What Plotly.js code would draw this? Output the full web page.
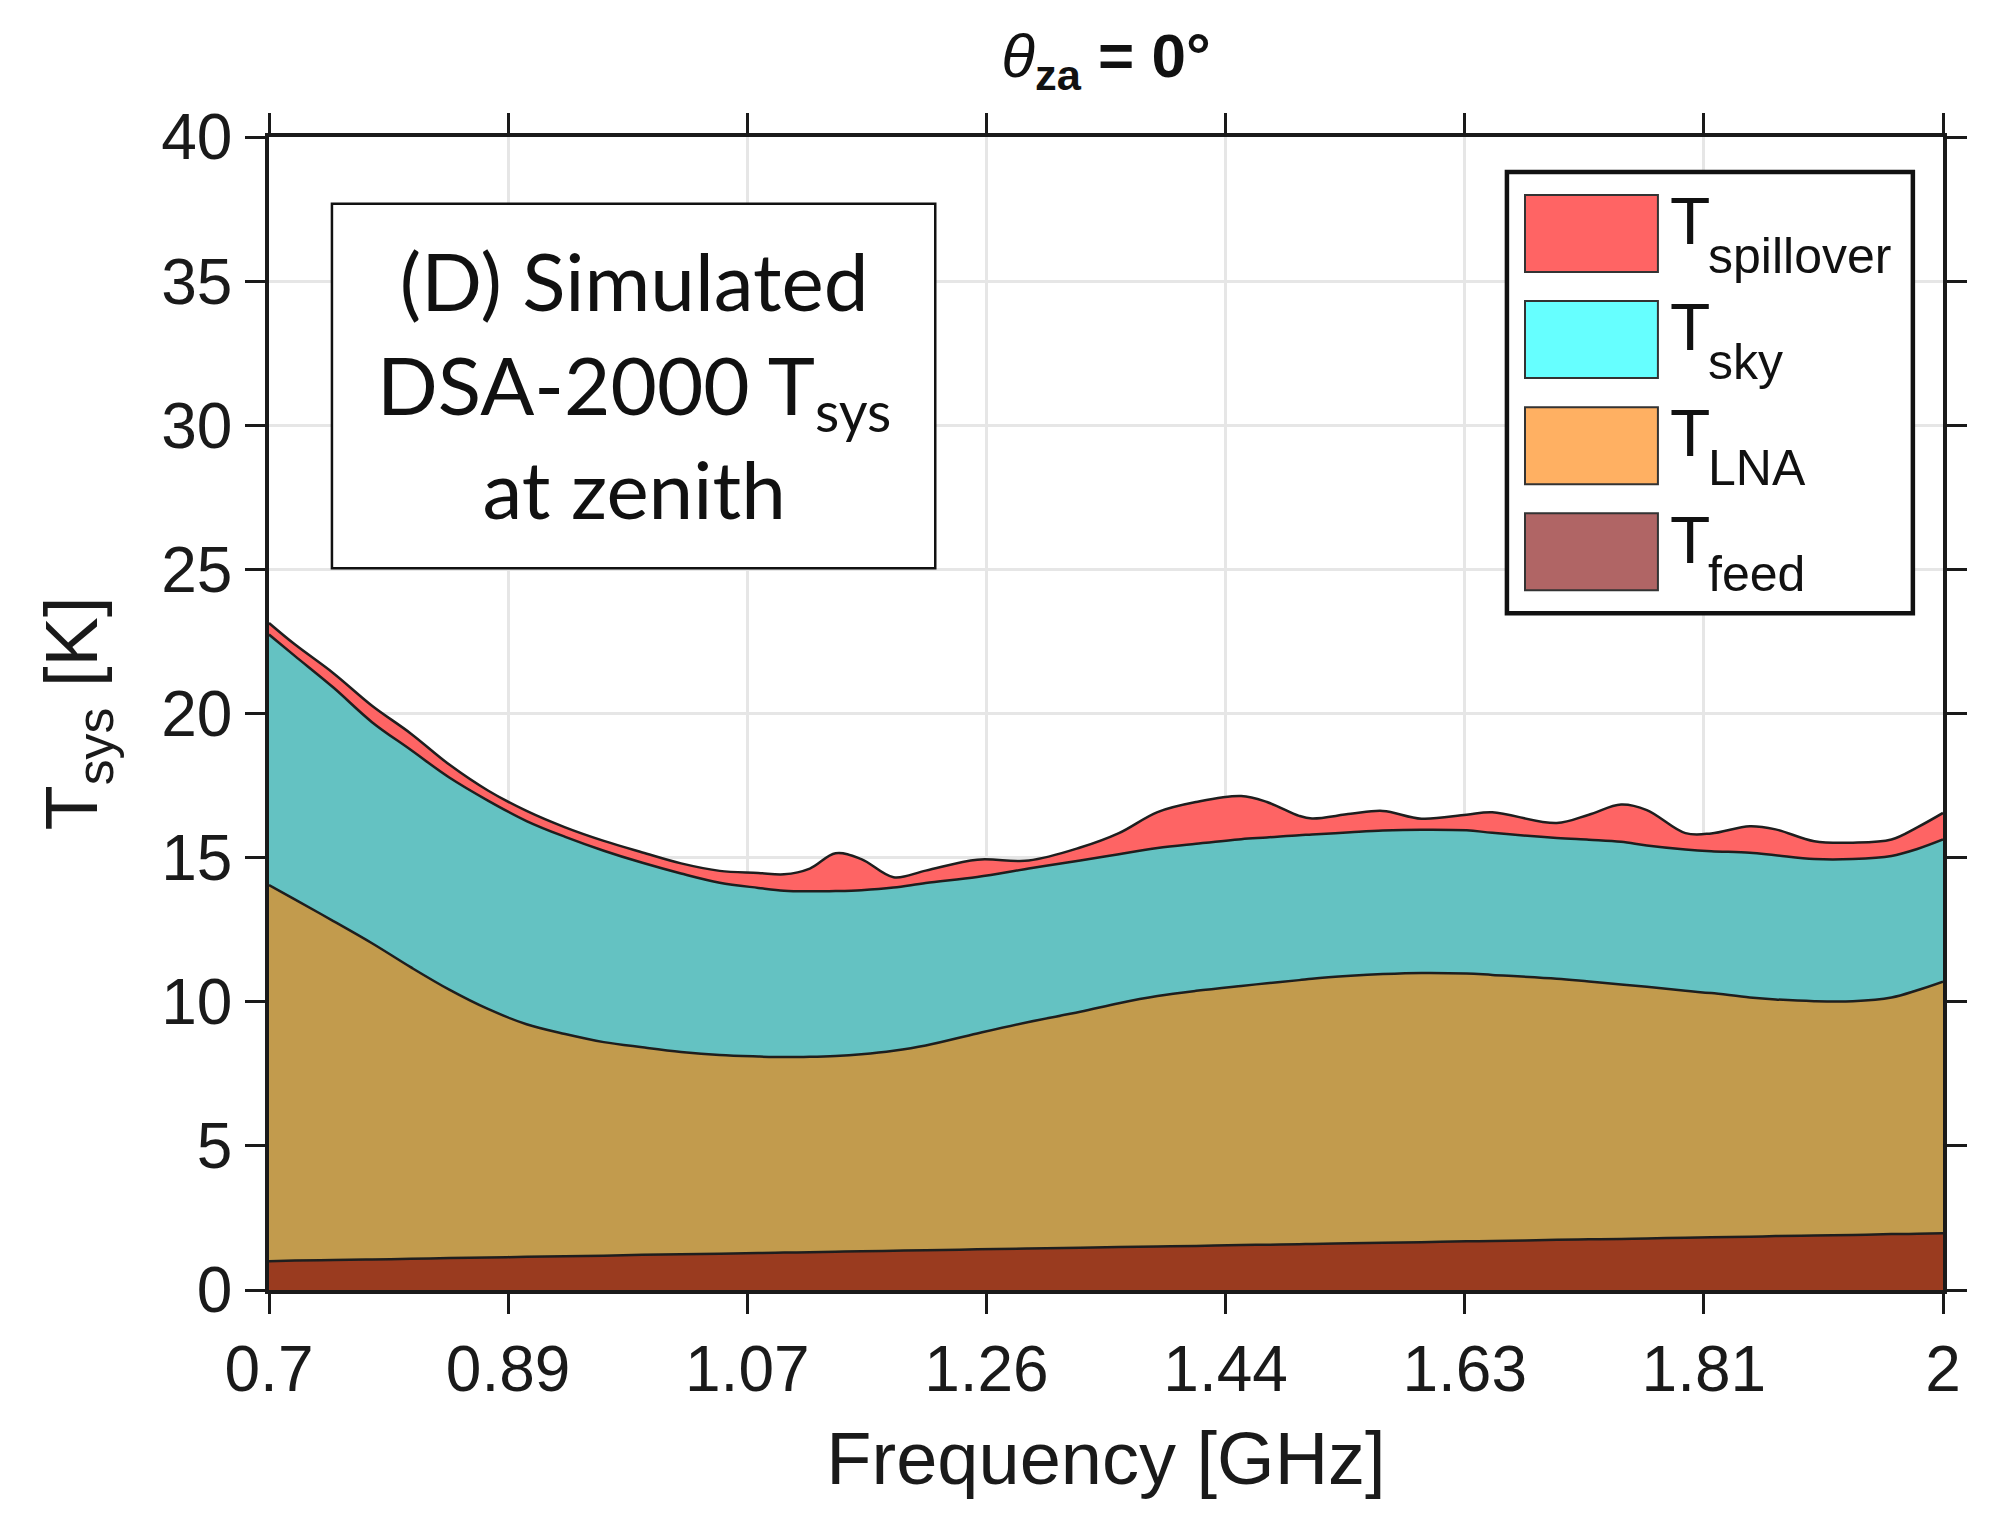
<!DOCTYPE html>
<html>
<head>
<meta charset="utf-8">
<script src="https://cdn.plot.ly/plotly-3.0.1.min.js"></script>
<style>
  html, body { margin: 0; padding: 0; background: #fff; }
  #chart { width: 2000px; height: 1513px; }
</style>
</head>
<body>
<div id="chart"></div>
<script>
// frequency samples [GHz]
var freq = [0.70, 0.72, 0.75, 0.78, 0.81, 0.84, 0.87, 0.90, 0.93, 0.96, 0.99, 1.02,
            1.05, 1.08, 1.10, 1.12, 1.14, 1.16, 1.185, 1.21, 1.25, 1.29, 1.33, 1.36,
            1.39, 1.42, 1.455, 1.475, 1.50, 1.51, 1.54, 1.565, 1.595, 1.63, 1.65, 1.70,
            1.725, 1.75, 1.77, 1.80, 1.82, 1.85, 1.87, 1.90, 1.93, 1.96, 1.98, 2.00]

// temperature contributions [K], stacked bottom to top
var tFeed = [1.00, 1.02, 1.04, 1.06, 1.08, 1.11, 1.13, 1.15, 1.17, 1.19, 1.22, 1.24,
             1.26, 1.28, 1.30, 1.31, 1.33, 1.34, 1.36, 1.38, 1.41, 1.44, 1.47, 1.49,
             1.51, 1.53, 1.56, 1.57, 1.59, 1.60, 1.62, 1.64, 1.66, 1.69, 1.70, 1.74,
             1.76, 1.77, 1.79, 1.81, 1.83, 1.85, 1.87, 1.89, 1.91, 1.94, 1.95, 1.97]
var tLNA = [13.05, 12.53, 11.76, 10.97, 10.12, 9.31, 8.62, 8.07, 7.71, 7.41, 7.20, 7.02,
            6.89, 6.82, 6.78, 6.78, 6.79, 6.84, 6.94, 7.10, 7.49, 7.86, 8.18, 8.46,
            8.69, 8.85, 8.99, 9.07, 9.16, 9.20, 9.28, 9.32, 9.34, 9.29, 9.23, 9.06,
            8.94, 8.83, 8.73, 8.57, 8.47, 8.30, 8.21, 8.13, 8.11, 8.21, 8.45, 8.73]
var tSky = [8.69, 8.45, 8.10, 7.67, 7.54, 7.36, 7.23, 7.05, 6.84, 6.64, 6.40, 6.19,
            5.98, 5.85, 5.77, 5.74, 5.72, 5.69, 5.66, 5.64, 5.43, 5.32, 5.25, 5.17,
            5.13, 5.10, 5.09, 5.06, 5.03, 5.00, 4.98, 4.98, 4.97, 4.97, 4.93, 4.88,
            4.92, 4.95, 4.90, 4.90, 4.92, 5.02, 5.00, 4.93, 4.93, 4.91, 4.90, 4.93]
var tSpill = [0.40, 0.40, 0.50, 0.57, 0.57, 0.45, 0.35, 0.35, 0.33, 0.34, 0.36, 0.35,
              0.41, 0.52, 0.57, 0.79, 1.31, 1.08, 0.36, 0.43, 0.60, 0.28, 0.45, 0.73,
              1.25, 1.45, 1.50, 1.23, 0.67, 0.56, 0.64, 0.68, 0.38, 0.54, 0.71, 0.52,
              0.87, 1.29, 1.23, 0.57, 0.62, 0.92, 0.90, 0.62, 0.57, 0.57, 0.75, 0.92]

var xTickVals = [0.7, 0.885714, 1.071429, 1.257143, 1.442857, 1.628571, 1.814286, 2.0]
var xTickText = ['0.7', '0.89', '1.07', '1.26', '1.44', '1.63', '1.81', '2']

// legend entries: T with these subscripts, top to bottom
var legendSubs = ['spillover', 'sky', 'LNA', 'feed']

// fills as seen in the plot, and the brighter swatch colours of the legend
var fillCol = {feed: '#9a3b1f', lna: '#c29b4d', sky: '#64c2c2', spill: '#fe6464'}
var swatchCol = ['#ff6464', '#66ffff', '#ffb062', '#b06565']

function makeLayer(y, color, name) {
  return {
    x: freq, y: y, name: name,
    type: 'scatter', mode: 'lines',
    stackgroup: 'one',
    fillcolor: color,
    line: {color: '#1e1e1e', width: 2.5, shape: 'spline', smoothing: 1}
  }
}

var traces = [
  makeLayer(tFeed, fillCol.feed, 'T_feed'),
  makeLayer(tLNA, fillCol.lna, 'T_LNA'),
  makeLayer(tSky, fillCol.sky, 'T_sky'),
  makeLayer(tSpill, fillCol.spill, 'T_spillover')
]

var sans = 'Liberation Sans, Arial, sans-serif'
var axisFont = {family: sans, size: 64, color: '#1a1a1a'}

// hand-made legend box and label box, in paper coordinates
var shapes = []
var annotations = []
shapes.push({type: 'rect', xref: 'paper', yref: 'paper',
  x0: 0.7395, x1: 0.982, y0: 0.587, y1: 0.9697,
  line: {color: '#111', width: 4.5}, fillcolor: '#fff', layer: 'above'})
var rowTop = 0.9497, rowH = 0.0668, rowPitch = 0.092
for (var i = 0; i < legendSubs.length; i++) {
  var rowY = rowTop - i * rowPitch
  shapes.push({type: 'rect', xref: 'paper', yref: 'paper',
    x0: 0.7503, x1: 0.8297, y0: rowY - rowH, y1: rowY,
    line: {color: '#333', width: 2}, fillcolor: swatchCol[i], layer: 'above'})
  // big T near the top of the swatch, subscript dropped to its bottom
  annotations.push({xref: 'paper', yref: 'paper', x: 0.836, y: rowY + 0.011,
    xanchor: 'left', yanchor: 'top', showarrow: false, text: 'T',
    font: {family: sans, size: 66, color: '#111'}})
  annotations.push({xref: 'paper', yref: 'paper', x: 0.8585, y: rowY - rowH - 0.012,
    xanchor: 'left', yanchor: 'bottom', showarrow: false, text: legendSubs[i],
    font: {family: sans, size: 50, color: '#111'}})
}
shapes.push({type: 'rect', xref: 'paper', yref: 'paper',
  x0: 0.0376, x1: 0.398, y0: 0.626, y1: 0.942,
  line: {color: '#111', width: 2.5}, fillcolor: '#fff', layer: 'above'})
annotations.push({xref: 'paper', yref: 'paper', x: 0.218, y: 0.786,
  xanchor: 'center', yanchor: 'middle', showarrow: false, align: 'center',
  text: '(D) Simulated<br>DSA-2000 T<sub>sys</sub><br>at zenith',
  font: {family: 'Lato, Open Sans, sans-serif', size: 80, color: '#111'}})

var layout = {
  width: 2000, height: 1513,
  margin: {l: 269, r: 57, t: 137, b: 223},
  paper_bgcolor: '#fff', plot_bgcolor: '#fff',
  showlegend: false,
  title: {
    text: '<i>θ</i><sub><b>za</b></sub><b> = 0°</b>',
    font: {family: sans, size: 62, color: '#111'},
    x: 0.553, xanchor: 'center', y: 0.978, yanchor: 'top'
  },
  xaxis: {
    range: [0.7, 2.0],
    tickmode: 'array', tickvals: xTickVals, ticktext: xTickText,
    tickfont: axisFont,
    ticks: 'outside', ticklen: 20, tickwidth: 3, tickcolor: '#1a1a1a',
    showline: true, linewidth: 3.5, linecolor: '#1a1a1a', mirror: 'ticks',
    showgrid: true, gridcolor: '#e6e6e6', gridwidth: 3,
    zeroline: false,
    title: {text: 'Frequency [GHz]', standoff: 30,
      font: {family: sans, size: 74, color: '#1a1a1a'}}
  },
  yaxis: {
    range: [0, 40], dtick: 5, tick0: 0,
    tickfont: axisFont,
    ticks: 'outside', ticklen: 20, tickwidth: 3, tickcolor: '#1a1a1a',
    showline: true, linewidth: 3.5, linecolor: '#1a1a1a', mirror: 'ticks',
    showgrid: true, gridcolor: '#e6e6e6', gridwidth: 3,
    zeroline: false,
    title: {text: 'T<sub>sys</sub> [K]', standoff: 40,
      font: {family: sans, size: 74, color: '#1a1a1a'}}
  },
  shapes: shapes,
  annotations: annotations
}

Plotly.newPlot('chart', traces, layout, {displayModeBar: false})
</script>
</body>
</html>
